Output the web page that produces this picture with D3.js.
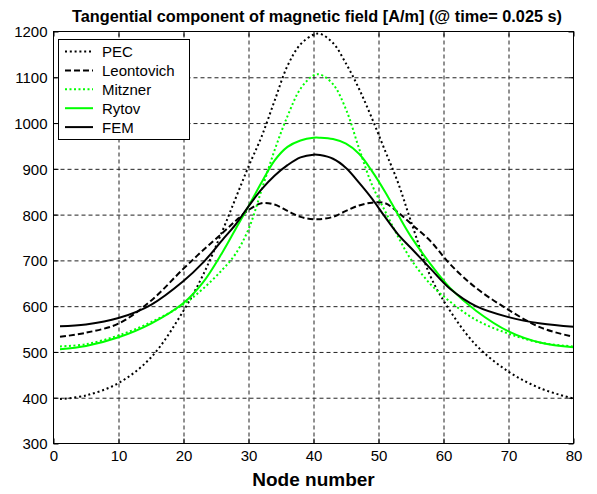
<!DOCTYPE html>
<html>
<head>
<meta charset="utf-8">
<script src="https://cdn.jsdelivr.net/npm/d3@7"></script>
<style>
  body { margin: 0; background: #fff; }
  svg { display: block; font-family: "Liberation Sans", Arial, sans-serif; }
  .tick text { font-size: 15px; fill: #000; }
  .grid line { stroke: #222; stroke-dasharray: 4,3; }
  .grid .domain { display: none; }
</style>
</head>
<body>
<script>
const nodes = [1, 5, 10, 15, 20, 23, 26, 28, 30, 32, 34, 36, 38, 40, 41, 43, 45, 47, 49, 51, 53, 55, 58, 61, 65, 70, 75, 80];

const pec        = [397, 405, 432, 488, 590, 668, 765, 835, 905, 970, 1048, 1125, 1172, 1193, 1195, 1175, 1130, 1075, 1010, 940, 870, 785, 665, 590, 515, 457, 420, 398];
const leontovich = [533, 542, 562, 612, 682, 722, 760, 786, 810, 825, 822, 808, 795, 790, 790, 795, 808, 820, 826, 825, 805, 780, 742, 692, 640, 592, 553, 533];
const mitzner    = [512, 517, 536, 565, 604, 638, 680, 714, 768, 853, 940, 1015, 1075, 1104, 1106, 1085, 1030, 945, 865, 808, 752, 702, 648, 610, 570, 540, 520, 512];
const rytov      = [506, 513, 532, 562, 607, 652, 718, 768, 818, 870, 918, 948, 962, 968, 968, 965, 955, 933, 895, 850, 800, 752, 692, 640, 590, 545, 520, 510];
const fem        = [556, 560, 574, 603, 655, 695, 745, 778, 818, 855, 885, 908, 925, 931, 930, 922, 902, 870, 835, 795, 757, 727, 682, 638, 600, 576, 562, 555];

const seriesNames = ["PEC", "Leontovich", "Mitzner", "Rytov", "FEM"];
const xTicks = [0, 10, 20, 30, 40, 50, 60, 70, 80];
const yTicks = [300, 400, 500, 600, 700, 800, 900, 1000, 1100, 1200];

const titleText = "Tangential component of magnetic field [A/m] (@ time= 0.025 s)";
const xLabel = "Node number";

const W = 597, H = 494;
const pl = 53.5, pr = 573.5, pt = 31.5, pb = 443.5;

const styles = [
  { color: "#000", width: 2, dash: "2,2.8" },
  { color: "#000", width: 2, dash: "6,3" },
  { color: "#00ff00", width: 2, dash: "2,2.5" },
  { color: "#00ff00", width: 2, dash: null },
  { color: "#000", width: 2, dash: null }
];

const svg = d3.select("body").append("svg")
  .attr("width", W)
  .attr("height", H);

const x = d3.scaleLinear().domain([0, 80]).range([pl, pr]);
const y = d3.scaleLinear().domain([300, 1200]).range([pb, pt]);

// grid
svg.append("g")
  .attr("class", "grid")
  .attr("transform", `translate(0, ${pb})`)
  .call(d3.axisBottom(x).tickValues(xTicks.slice(1, -1)).tickSize(-(pb - pt)).tickFormat(""));
svg.append("g")
  .attr("class", "grid")
  .attr("transform", `translate(${pl}, 0)`)
  .call(d3.axisLeft(y).tickValues(yTicks.slice(1, -1)).tickSize(-(pr - pl)).tickFormat(""));

// curves
const data = [pec, leontovich, mitzner, rytov, fem];
const line = d3.line()
  .x((d, i) => x(nodes[i]))
  .y(d => y(d))
  .curve(d3.curveCatmullRom.alpha(0.5));

data.forEach((vals, k) => {
  const s = styles[k];
  svg.append("path")
    .datum(vals)
    .attr("fill", "none")
    .attr("stroke", s.color)
    .attr("stroke-width", s.width)
    .attr("stroke-dasharray", s.dash)
    .attr("d", line);
});

// box and axes
svg.append("rect")
  .attr("x", pl).attr("y", pt)
  .attr("width", pr - pl).attr("height", pb - pt)
  .attr("fill", "none").attr("stroke", "#000");

const gx = svg.append("g")
  .attr("transform", `translate(0, ${pb})`)
  .call(d3.axisBottom(x).tickValues(xTicks).tickSize(-5).tickPadding(7).tickFormat(d3.format("d")));
const gy = svg.append("g")
  .attr("transform", `translate(${pl}, 0)`)
  .call(d3.axisLeft(y).tickValues(yTicks).tickSize(-5).tickPadding(6).tickFormat(d3.format("d")));
svg.append("g")
  .attr("transform", `translate(0, ${pt})`)
  .call(d3.axisTop(x).tickValues(xTicks).tickSize(-5).tickFormat(""));
svg.append("g")
  .attr("transform", `translate(${pr}, 0)`)
  .call(d3.axisRight(y).tickValues(yTicks).tickSize(-5).tickFormat(""));
svg.selectAll(".domain").filter(function () { return !this.parentNode.classList.contains("grid"); }).remove();
gy.selectAll("text").attr("dy", "0.36em");

// title and label
svg.append("text")
  .attr("x", 317).attr("y", 22)
  .attr("text-anchor", "middle")
  .attr("font-weight", "bold")
  .attr("font-size", 16.3)
  .text(titleText);

svg.append("text")
  .attr("x", (pl + pr) / 2).attr("y", 486)
  .attr("text-anchor", "middle")
  .attr("font-weight", "bold")
  .attr("font-size", 19)
  .text(xLabel);

// legend
const lg = svg.append("g");
lg.append("rect")
  .attr("x", 58.5).attr("y", 39.5)
  .attr("width", 131).attr("height", 100)
  .attr("fill", "#fff").attr("stroke", "#000");

seriesNames.forEach((name, k) => {
  const s = styles[k];
  const ly = 51.5 + k * 18.9;
  lg.append("line")
    .attr("x1", 65).attr("x2", 93)
    .attr("y1", ly).attr("y2", ly)
    .attr("stroke", s.color)
    .attr("stroke-width", s.width)
    .attr("stroke-dasharray", s.dash);
  lg.append("text")
    .attr("x", 102).attr("y", ly + 5.5)
    .attr("font-size", 15)
    .text(name);
});
</script>
</body>
</html>
